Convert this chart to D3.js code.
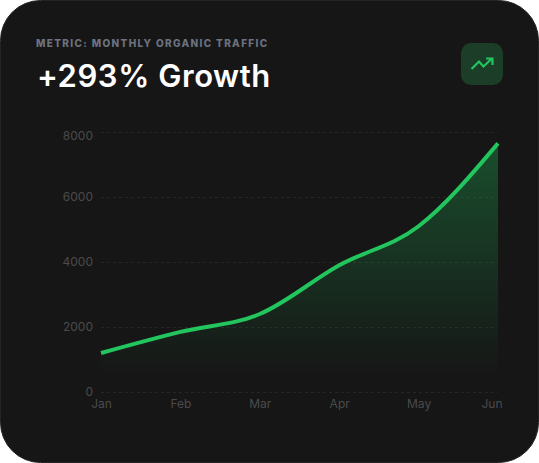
<!DOCTYPE html>
<html>
<head>
<meta charset="utf-8">
<script src="https://cdn.jsdelivr.net/npm/d3@7"></script>
<style>
  html, body { margin: 0; padding: 0; background: #fff; }
  svg { display: block; }
  text { font-family: Inter, sans-serif; }
</style>
</head>
<body>
<div id="chart"></div>
<script>
// values
const months = ["Jan", "Feb", "Mar", "Apr", "May", "Jun"];
const traffic = [1200, 1850, 2400, 3900, 5100, 7650];
const yTicks = [0, 2000, 4000, 6000, 8000];
const metricLabel = "METRIC: MONTHLY ORGANIC TRAFFIC";
const headline = "+293% Growth";

const width = 539, height = 463;
const margin = { top: 132, right: 41, bottom: 71, left: 101 };

const svg = d3.select("#chart").append("svg")
  .attr("width", width)
  .attr("height", height);

// card
svg.append("rect")
  .attr("x", 0.5).attr("y", 0.5)
  .attr("width", width - 1).attr("height", height - 1)
  .attr("rx", 40)
  .attr("fill", "#161616")
  .attr("stroke", "#242424");

svg.append("text")
  .attr("x", 36).attr("y", 47)
  .attr("fill", "#6b7280")
  .attr("font-size", 10)
  .attr("font-weight", 800)
  .attr("letter-spacing", 1.35)
  .text(metricLabel);

svg.append("text")
  .attr("x", 37).attr("y", 87)
  .attr("fill", "#fff")
  .attr("font-size", 31)
  .attr("font-weight", 600)
  .attr("letter-spacing", 0.55)
  .text(headline);

// trend badge
const badge = svg.append("g").attr("transform", "translate(461,43)");
badge.append("rect")
  .attr("width", 42).attr("height", 42)
  .attr("rx", 10)
  .attr("fill", "#1c3d28");
badge.append("path")
  .attr("d", "M10.5 26L18 18.5L22.5 23.5L31 15.5M25 15.5H31.5V22")
  .attr("fill", "none")
  .attr("stroke", "#22c55e")
  .attr("stroke-width", 2.2);

const x = d3.scalePoint()
  .domain(months)
  .range([margin.left, width - margin.right]);

const y = d3.scaleLinear()
  .domain([0, 8000])
  .range([height - margin.bottom, margin.top]);

const defs = svg.append("defs");
const grad = defs.append("linearGradient")
  .attr("id", "areaFill")
  .attr("gradientUnits", "userSpaceOnUse")
  .attr("x1", 0).attr("x2", 0)
  .attr("y1", y(7650)).attr("y2", y(0));
grad.append("stop").attr("offset", 0).attr("stop-color", "#22c55e").attr("stop-opacity", 0.32);
grad.append("stop").attr("offset", 0.93).attr("stop-color", "#22c55e").attr("stop-opacity", 0);

// grid
svg.append("g").selectAll("line")
  .data(yTicks)
  .enter()
  .append("line")
  .attr("x1", margin.left).attr("x2", width - margin.right)
  .attr("y1", d => y(d) + 0.5).attr("y2", d => y(d) + 0.5)
  .attr("stroke", "#262626")
  .attr("stroke-dasharray", "3 3");

const curve = d3.curveMonotoneX;

const area = d3.area()
  .x((d, i) => x(months[i]))
  .y0(y(0))
  .y1(d => y(d))
  .curve(curve);

const line = d3.line()
  .x((d, i) => x(months[i]))
  .y(d => y(d))
  .curve(curve);

svg.append("path")
  .datum(traffic)
  .attr("d", area)
  .attr("fill", "url(#areaFill)");

svg.append("path")
  .datum(traffic)
  .attr("d", line)
  .attr("fill", "none")
  .attr("stroke", "#22c55e")
  .attr("stroke-width", 4);

// axes, no domain line or ticks
const yAxis = svg.append("g")
  .attr("transform", "translate(" + margin.left + ",0)")
  .call(d3.axisLeft(y).tickValues(yTicks).tickFormat(d3.format("d")).tickSize(0).tickPadding(8));

const xAxis = svg.append("g")
  .attr("transform", "translate(0," + (height - margin.bottom) + ")")
  .call(d3.axisBottom(x).tickSize(0).tickPadding(7));

[yAxis, xAxis].forEach(a => {
  a.select(".domain").remove();
  a.selectAll("text")
    .attr("fill", "#4b4b4b")
    .style("font-family", "Inter, sans-serif")
    .style("font-size", "12px");
});

// top y label is pushed down to stay inside the plot
yAxis.selectAll("text")
  .filter(d => d === 8000)
  .attr("y", 4);

// last label is pulled in so it stays inside the plot edge
xAxis.selectAll("text")
  .filter(d => d === "Jun")
  .attr("text-anchor", "end")
  .attr("x", 4);
</script>
</body>
</html>
